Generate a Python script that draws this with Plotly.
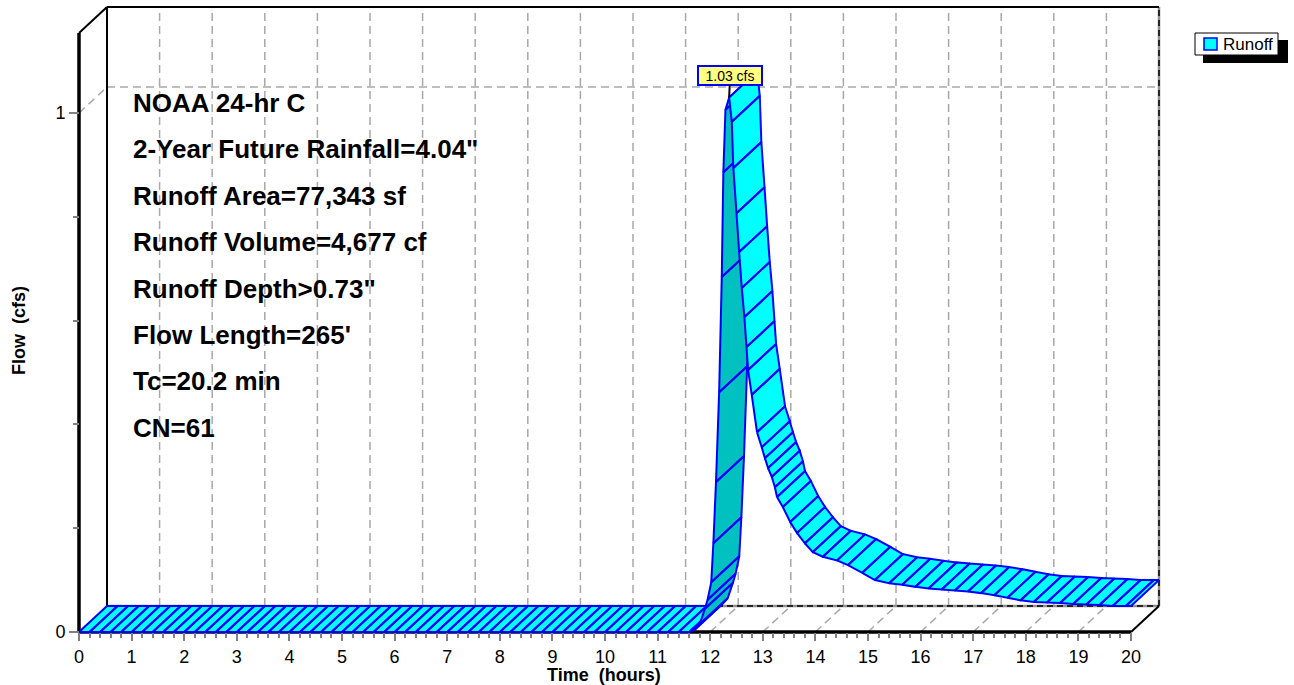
import plotly.graph_objects as go

# ---------------- data ----------------
time_hr = [
    0.0, 0.2, 0.4, 0.6, 0.8, 1.0, 1.2, 1.4, 1.6, 1.8,
    2.0, 2.2, 2.4, 2.6, 2.8, 3.0, 3.2, 3.4, 3.6, 3.8,
    4.0, 4.2, 4.4, 4.6, 4.8, 5.0, 5.2, 5.4, 5.6, 5.8,
    6.0, 6.2, 6.4, 6.6, 6.8, 7.0, 7.2, 7.4, 7.6, 7.8,
    8.0, 8.2, 8.4, 8.6, 8.8, 9.0, 9.2, 9.4, 9.6, 9.8,
    10.0, 10.2, 10.4, 10.6, 10.8, 11.0, 11.2, 11.4, 11.6,
    11.7, 11.8, 11.9, 11.95, 12.02, 12.06, 12.11, 12.17, 12.22, 12.25,
    12.29, 12.36, 12.41, 12.44, 12.50, 12.55, 12.60, 12.65, 12.69, 12.72,
    12.79, 12.89, 12.98, 13.04, 13.10, 13.17, 13.23, 13.27, 13.38, 13.52,
    13.65, 13.80, 13.95, 14.14, 14.41, 14.62, 14.89, 15.13, 15.40, 15.65,
    15.90, 16.15, 16.40, 16.65, 16.90, 17.15, 17.40, 17.65, 17.90, 18.15,
    18.40, 18.65, 18.90, 19.15, 19.40, 19.65, 19.90, 20.0,
]
flow_cfs = [
    0.0, 0.0, 0.0, 0.0, 0.0, 0.0, 0.0, 0.0, 0.0, 0.0,
    0.0, 0.0, 0.0, 0.0, 0.0, 0.0, 0.0, 0.0, 0.0, 0.0,
    0.0, 0.0, 0.0, 0.0, 0.0, 0.0, 0.0, 0.0, 0.0, 0.0,
    0.0, 0.0, 0.0, 0.0, 0.0, 0.0, 0.0, 0.0, 0.0, 0.0,
    0.0, 0.0, 0.0, 0.0, 0.0, 0.0, 0.0, 0.0, 0.0, 0.0,
    0.0, 0.0, 0.0, 0.0, 0.0, 0.0, 0.0, 0.0, 0.0,
    0.004, 0.015, 0.045, 0.062, 0.096, 0.171, 0.289, 0.462, 0.684, 0.886,
    1.006, 1.030, 0.983, 0.894, 0.807, 0.732, 0.663, 0.607, 0.549, 0.505,
    0.457, 0.385, 0.356, 0.335, 0.316, 0.299, 0.279, 0.260, 0.241, 0.212,
    0.191, 0.171, 0.154, 0.145, 0.138, 0.129, 0.114, 0.100, 0.094, 0.091,
    0.087, 0.084, 0.082, 0.080, 0.078, 0.075, 0.071, 0.066, 0.061, 0.058,
    0.057, 0.056, 0.054, 0.053, 0.052, 0.050, 0.050, 0.050,
]
series_name = "Runoff"
x_tick_vals = list(range(0, 21))
y_tick_vals = [0, 1]
info_lines = [
    "NOAA 24-hr C",
    '2-Year Future Rainfall=4.04"',
    "Runoff Area=77,343 sf",
    "Runoff Volume=4,677 cf",
    'Runoff Depth>0.73"',
    "Flow Length=265'",
    "Tc=20.2 min",
    "CN=61",
]

# ---------------- layout geometry / style ----------------
W, H = 1294, 685
PL, PR, PT, PB = 50, 1170, 2, 640          # plot area (px)
X0, Y0 = 79, 632                            # pixel of (0 h, 0 cfs) on front plane
PXH, PXC = 52.6, 519.0                      # px per hour, px per cfs
DEPTH = (28, 26)                            # depth offset (px right, px up)
DX, DY = DEPTH[0] / PXH, DEPTH[1] / PXC
FRONT_TOP = (Y0 - 33) / PXC
T_MAX = 20
FONT = "Liberation Sans, Arial, sans-serif"
CYAN, TEAL, BLUE = "#00FFFF", "#00C0C0", "#0000FF"
GRID = "#A8A8A8"

x_range = [(PL - X0) / PXH, (PR - X0) / PXH]
y_range = [(Y0 - PB) / PXC, (Y0 - PT) / PXC]


def paper_x(px):
    return (px - PL) / (PR - PL)


def paper_y(py):
    return (PB - py) / (PB - PT)


fig = go.Figure()


def add_lines(segs, color, width, dash="solid"):
    xs, ys = [], []
    for (xa, ya), (xb, yb) in segs:
        xs += [xa, xb, None]
        ys += [ya, yb, None]
    fig.add_trace(go.Scatter(x=xs, y=ys, mode="lines", hoverinfo="skip",
                             showlegend=False,
                             line=dict(color=color, width=width, dash=dash)))


# --- back wall / floor grid ---
dash = "8px,5px"
add_lines([((k + DX, DY), (k + DX, FRONT_TOP + DY)) for k in range(1, T_MAX)], GRID, 1.5, dash)
add_lines([((k, 0), (k + DX, DY)) for k in range(1, T_MAX)], GRID, 1.5, dash)
add_lines([((DX, 1 + DY), (T_MAX + DX, 1 + DY)), ((0, 1), (DX, 1 + DY))], GRID, 1.5, dash)
# back floor line and right edge of back wall
add_lines([((DX, DY), (T_MAX + DX, DY)), ((T_MAX + DX, DY), (T_MAX + DX, FRONT_TOP + DY))], "#909090", 2.5)
add_lines([((DX, DY), (T_MAX + DX, DY)), ((T_MAX + DX, DY), (T_MAX + DX, FRONT_TOP + DY))], "#000000", 1.5, "6px,4px")
# back wall top and left edges, diagonals
add_lines([((DX, FRONT_TOP + DY), (T_MAX + DX, FRONT_TOP + DY)),
           ((DX, DY), (DX, FRONT_TOP + DY)),
           ((0, FRONT_TOP), (DX, FRONT_TOP + DY)),
           ((T_MAX, 0), (T_MAX + DX, DY))], "#000000", 2)
# front axes
add_lines([((0, 0), (0, FRONT_TOP)), ((0, 0), (T_MAX, 0))], "#000000", 3.5)

# --- ribbon (3-D hydrograph) ---
def is_top(i):
    a = (time_hr[i + 1] - time_hr[i]) * PXH
    b = (flow_cfs[i + 1] - flow_cfs[i]) * PXC
    return a * DEPTH[1] - b * DEPTH[0] >= 0


runs = []
for i in range(len(time_hr) - 1):
    top = is_top(i)
    if runs and runs[-1][0] == top:
        runs[-1][1].append(i)
    else:
        runs.append([top, [i]])

for top, idxs in runs:
    xs, ys = [], []
    for i in idxs:
        t0, q0, t1, q1 = time_hr[i], flow_cfs[i], time_hr[i + 1], flow_cfs[i + 1]
        xs += [t0, t1, t1 + DX, t0 + DX, t0, None]
        ys += [q0, q1, q1 + DY, q0 + DY, q0, None]
    fig.add_trace(go.Scatter(x=xs, y=ys, mode="lines", fill="toself",
                             fillcolor=CYAN if top else TEAL,
                             line=dict(color=BLUE, width=2),
                             hoverinfo="skip", showlegend=False))

# --- peak label ---
ip = flow_cfs.index(max(flow_cfs))
fig.add_annotation(x=time_hr[ip], y=flow_cfs[ip], xref="x", yref="y",
                   text=f"{flow_cfs[ip]:.2f} cfs", showarrow=True, arrowhead=0,
                   arrowwidth=2, arrowcolor="#000000", ax=1, ay=-21.5, standoff=0,
                   bgcolor="#FFFF80", bordercolor=BLUE, borderwidth=2, borderpad=1,
                   width=60, height=15, font=dict(family=FONT, size=14, color="#000000"))

# --- info text block ---
for i, line in enumerate(info_lines):
    fig.add_annotation(x=paper_x(131), y=paper_y(103 + i * 46.4), xref="paper", yref="paper",
                       text=f"<b>{line}</b>", showarrow=False, xanchor="left", yanchor="middle",
                       font=dict(family=FONT, size=26, color="#000000"))

# --- axis titles ---
fig.add_annotation(x=paper_x(604), y=paper_y(675), xref="paper", yref="paper",
                   text="<b>Time\u00a0 (hours)</b>", showarrow=False,
                   xanchor="center", yanchor="middle",
                   font=dict(family=FONT, size=18, color="#000000"))
fig.add_annotation(x=paper_x(19), y=paper_y(331), xref="paper", yref="paper",
                   text="<b>Flow\u00a0 (cfs)</b>", showarrow=False, textangle=-90,
                   xanchor="center", yanchor="middle",
                   font=dict(family=FONT, size=18, color="#000000"))

# --- legend (drawn) ---
fig.add_shape(type="rect", xref="paper", yref="paper",
              x0=paper_x(1203), x1=paper_x(1288), y0=paper_y(63), y1=paper_y(40),
              fillcolor="#000000", line=dict(width=0))
fig.add_shape(type="rect", xref="paper", yref="paper",
              x0=paper_x(1195), x1=paper_x(1278), y0=paper_y(55), y1=paper_y(33),
              fillcolor="#FFFFFF", line=dict(color="#000000", width=1))
fig.add_shape(type="rect", xref="paper", yref="paper",
              x0=paper_x(1204), x1=paper_x(1217), y0=paper_y(50), y1=paper_y(38),
              fillcolor=CYAN, line=dict(color=BLUE, width=1.5))
fig.add_annotation(x=paper_x(1221), y=paper_y(44.5), xref="paper", yref="paper",
                   text=series_name, showarrow=False, xanchor="left", yanchor="middle",
                   font=dict(family=FONT, size=17, color="#000000"))

minor_x = [k / 5 for k in range(0, T_MAX * 5 + 1) if k % 5]
minor_y = [0.2, 0.4, 0.6, 0.8]

fig.update_layout(
    width=W, height=H,
    margin=dict(l=PL, r=W - PR, t=PT, b=H - PB, autoexpand=False),
    paper_bgcolor="#FFFFFF", plot_bgcolor="#FFFFFF",
    showlegend=False,
    font=dict(family=FONT, size=18, color="#000000"),
    xaxis=dict(range=x_range, anchor="free", position=paper_y(Y0),
               showgrid=False, zeroline=False, showline=False,
               tickmode="array", tickvals=x_tick_vals, ticks="outside",
               ticklen=8, tickwidth=1.5, tickcolor="#808080",
               minor=dict(tickvals=minor_x, ticks="outside", ticklen=5,
                          tickwidth=1.5, tickcolor="#808080", showgrid=False),
               tickfont=dict(family=FONT, size=18, color="#000000")),
    yaxis=dict(range=y_range, anchor="free", position=paper_x(X0),
               showgrid=False, zeroline=False, showline=False,
               tickmode="array", tickvals=y_tick_vals, ticks="outside",
               ticklen=10, tickwidth=1.5, tickcolor="#808080",
               minor=dict(tickvals=minor_y, ticks="outside", ticklen=6,
                          tickwidth=1.5, tickcolor="#808080", showgrid=False),
               tickfont=dict(family=FONT, size=18, color="#000000")),
)

fig.write_html("out.html", config={"displayModeBar": False},
               post_script="document.body.style.margin='0px';")
